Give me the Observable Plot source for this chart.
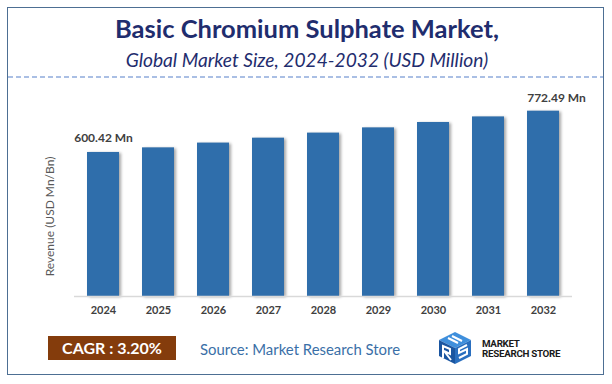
<!DOCTYPE html>
<html><head><meta charset="utf-8">
<script src="https://cdn.jsdelivr.net/npm/d3@7"></script>
<script src="https://cdn.jsdelivr.net/npm/@observablehq/plot@0.6"></script>
<style>
body{margin:0;background:#fff;}
#wrap{position:relative;width:612px;height:384px;overflow:hidden;font-family:Lato,"Open Sans",sans-serif;}
#frame{position:absolute;left:7px;top:7px;width:597px;height:368px;border:1.5px solid #4d6f93;box-sizing:border-box;}
#title{position:absolute;left:0;top:16px;width:614px;text-align:center;font-size:25.5px;line-height:25px;font-weight:bold;color:#1f2d6e;}
#subtitle{position:absolute;left:0;top:50px;width:614px;text-align:center;font-size:19.2px;line-height:19px;font-style:italic;color:#1f2d6e;}
#dash{position:absolute;left:0;top:0;}
#chart{position:absolute;left:0;top:80px;}
#chart g[aria-label="bar"] rect{filter:drop-shadow(2.5px 1px 1.5px rgba(0,0,0,0.35));}
#chart g[aria-label="x-axis tick label"] text{font-weight:bold;}
#cagr{position:absolute;left:48px;top:336px;width:128px;height:24px;background:#843c0c;color:#fff;font-weight:bold;font-size:16px;line-height:24px;text-align:center;}
#source{position:absolute;left:200px;top:341px;font-size:14.9px;line-height:16px;color:#3a6fa7;}
#logo{position:absolute;left:438px;top:332px;}
#logotext{position:absolute;left:482px;top:339px;font-family:Roboto,sans-serif;font-weight:bold;font-size:9.8px;line-height:9.6px;color:#1a1a1a;letter-spacing:-0.3px;}
</style>
</head><body>
<div id="wrap">
  <div id="frame"></div>
  <div id="title">Basic Chromium Sulphate Market,</div>
  <div id="subtitle">Global Market Size, 2024-2032 (USD Million)</div>
  <svg id="dash" width="612" height="384"><line x1="8" x2="603" y1="77" y2="77" stroke="#8eaadb" stroke-width="1.5" stroke-dasharray="5,3"/></svg>
  <div id="chart"></div>
  <div id="cagr">CAGR : 3.20%</div>
  <div id="source">Source: Market Research Store</div>
  <svg id="logo" width="34" height="32" viewBox="0 0 34 32">
    <polygon points="17,0 33,8 17,16 1,8" fill="#3f8fdc"/>
    <polygon points="1,8 17,16 17,32 1,24" fill="#1a55a0"/>
    <polygon points="17,16 33,8 33,24 17,32" fill="#2a6fbf"/>
    <polyline points="10,6 20,11" stroke="#fff" stroke-width="2" fill="none"/>
    <polyline points="14,4 24,9" stroke="#fff" stroke-width="2" fill="none"/>
    <polyline points="5,26 5,14 12,17 12,22 6,19 13,28" stroke="#fff" stroke-width="2" fill="none"/>
    <polyline points="29,13 21,17 21,21 29,17 29,22 21,26" stroke="#fff" stroke-width="2" fill="none"/>
  </svg>
  <div id="logotext">MARKET<br>RESEARCH STORE</div>
</div>
<script>
const years = ["2024","2025","2026","2027","2028","2029","2030","2031","2032"];
const revenue = [600.42, 619.6, 639.5, 660.0, 681.1, 702.9, 725.4, 748.6, 772.49];
const labelYears = ["2024","2032"];
const labelTexts = ["600.42 Mn","772.49 Mn"];
const yTitle = "Revenue (USD Mn/Bn)";

const data = years.map((y,i)=>({year:y, value:revenue[i]}));
const labelData = labelYears.map((y,i)=>({year:y, value:revenue[years.indexOf(y)], label:labelTexts[i]}));

const chart = Plot.plot({
  width:612, height:250,
  marginTop:20, marginBottom:34, marginLeft:74, marginRight:40,
  x:{domain:years, paddingInner:0.42, paddingOuter:0.21, label:null},
  y:{domain:[0,817], axis:null},
  style:{fontFamily:"Lato, 'Open Sans', sans-serif", background:"transparent", overflow:"visible"},
  marks:[
    Plot.barY(data, {x:"year", y:"value", fill:"#2f6eab"}),
    Plot.ruleY([0], {stroke:"#d9d9d9", strokeWidth:1.5}),
    Plot.axisX({tickSize:0, tickPadding:10, fontSize:11, fill:"#404040", label:null}),
    Plot.text(labelData.slice(0,1), {x:"year", y:"value", text:"label", dy:-14, fontSize:12, fontWeight:"bold", fill:"#404040"}),
    Plot.text(labelData.slice(1), {x:"year", y:"value", text:"label", dy:-13, dx:13, fontSize:12, fontWeight:"bold", fill:"#404040"}),
    Plot.text([yTitle], {frameAnchor:"left", textAnchor:"middle", rotate:-90, dx:-24, dy:18, fontSize:12, fill:"#595959"})
  ]
});
document.getElementById("chart").appendChild(chart);
</script>
</body></html>
